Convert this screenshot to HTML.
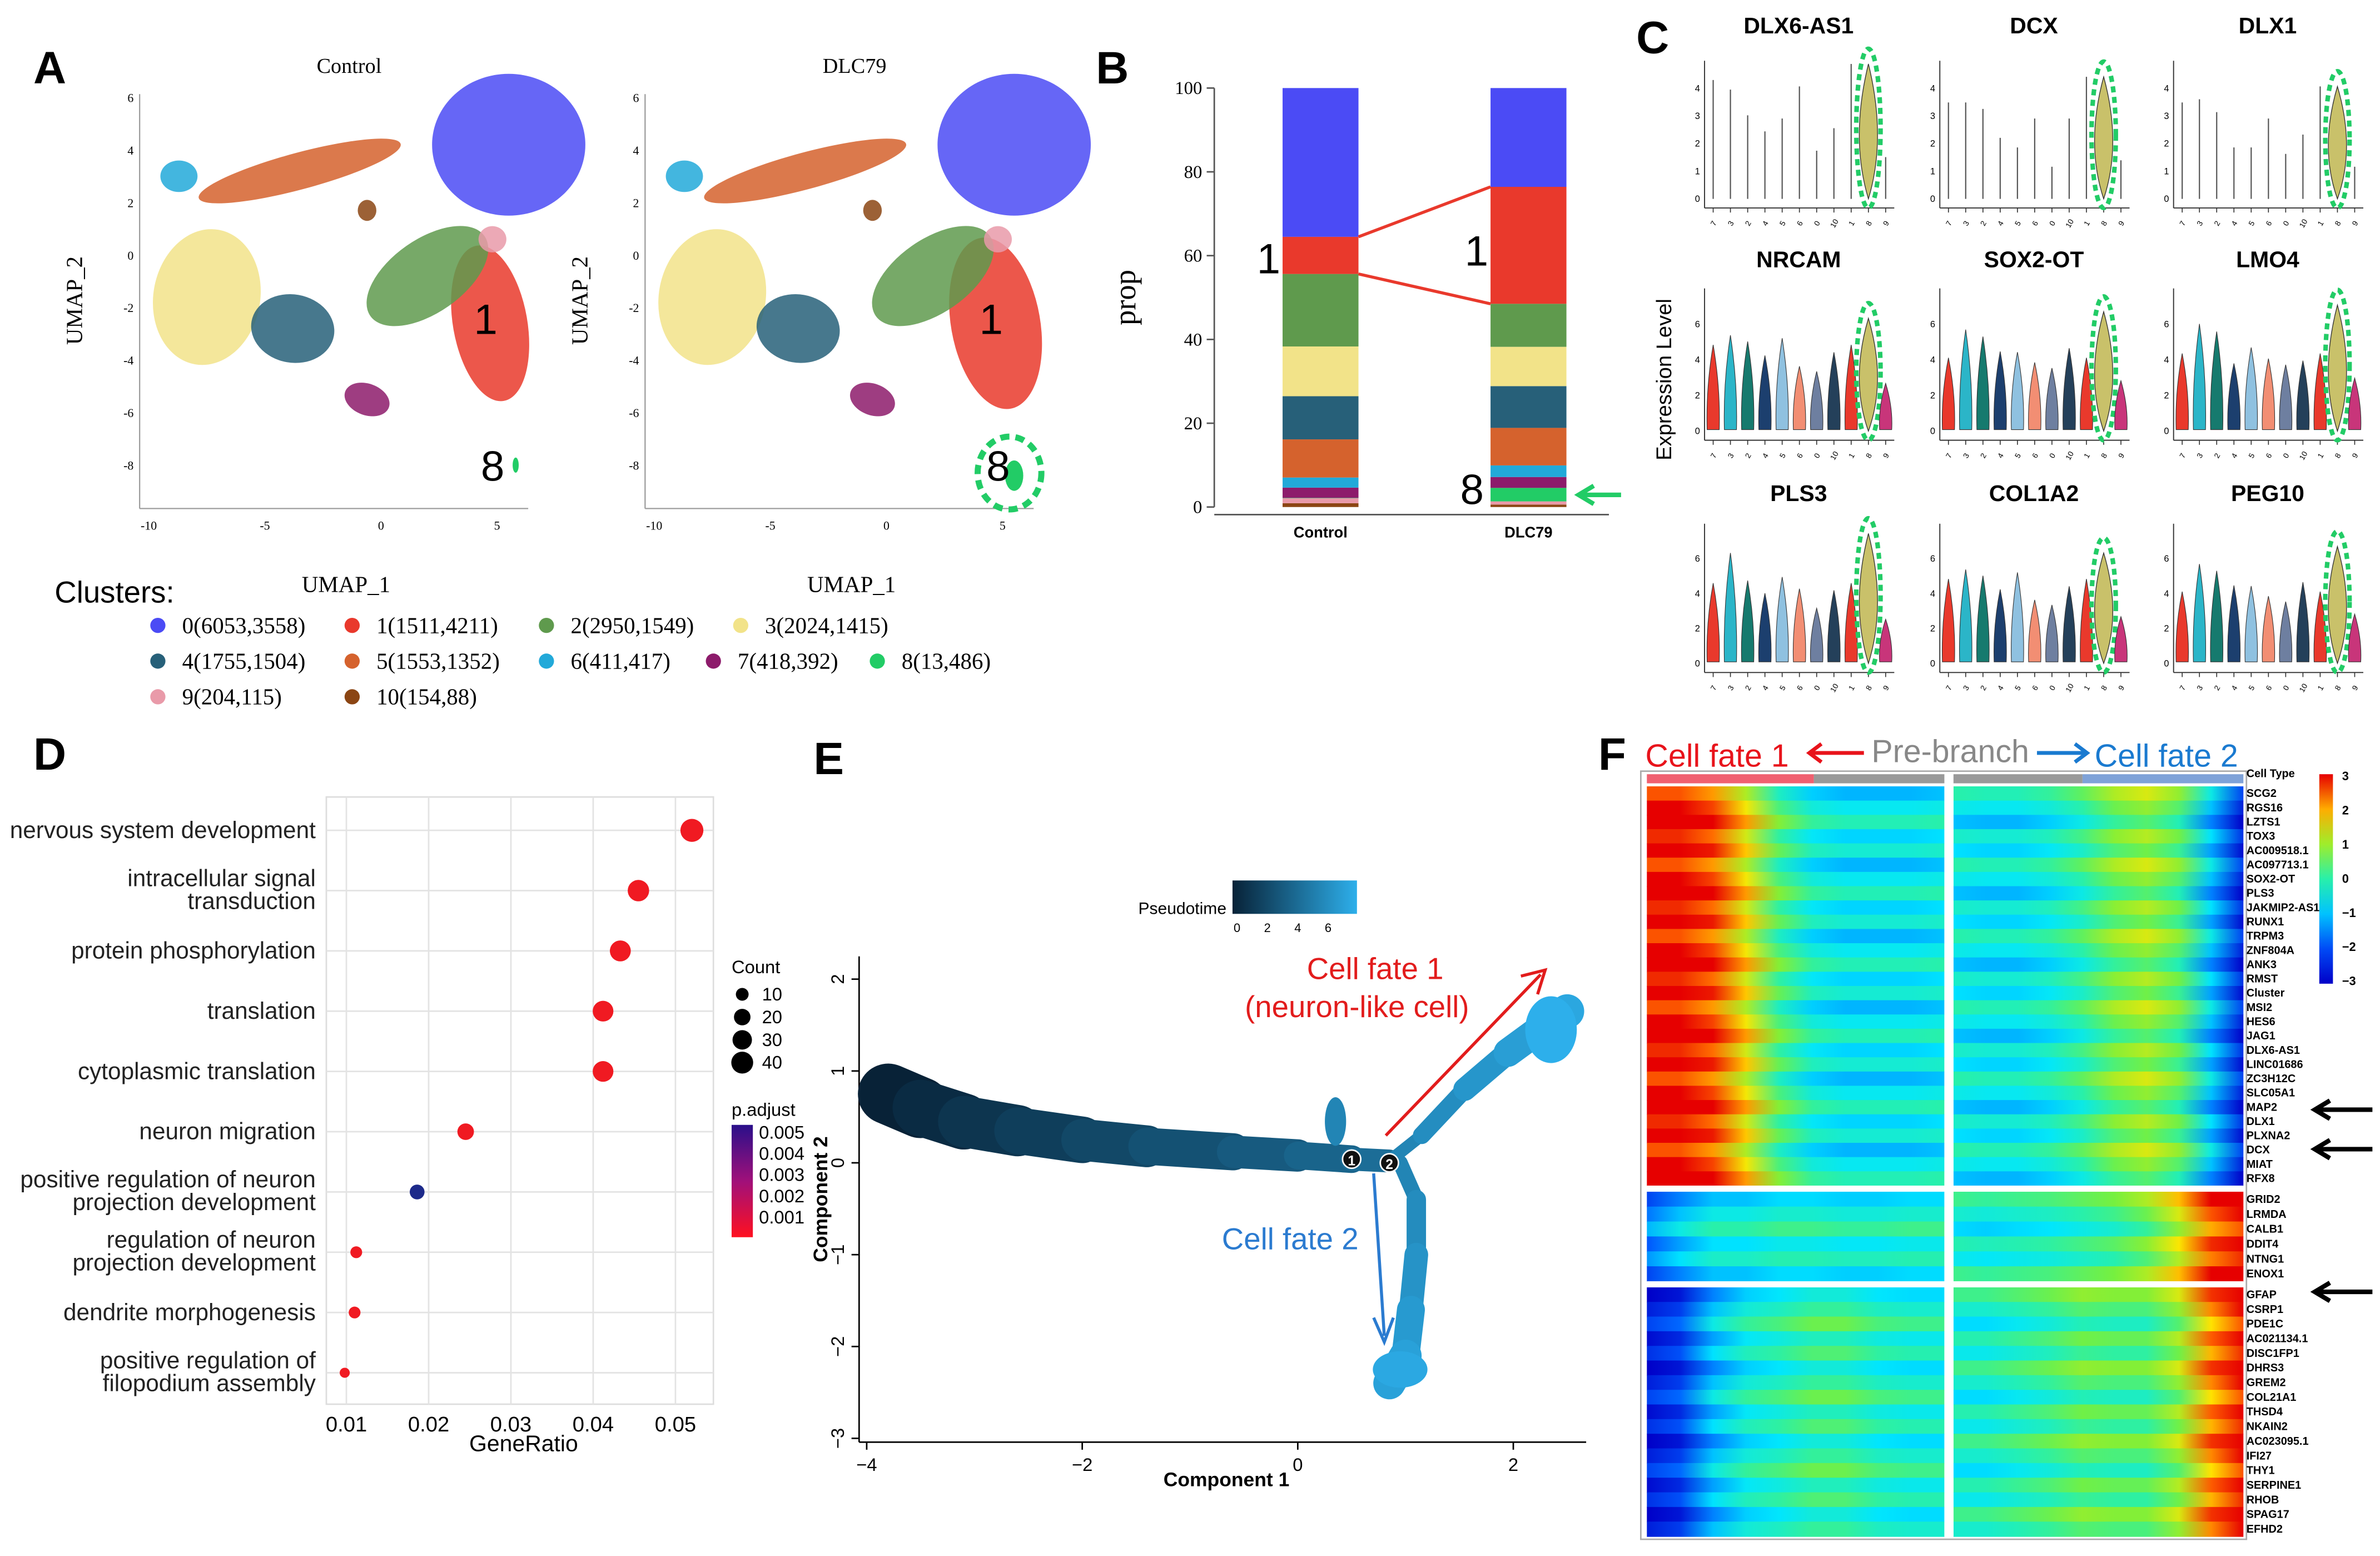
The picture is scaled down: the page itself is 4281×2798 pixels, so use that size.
<!DOCTYPE html>
<html><head><meta charset="utf-8"><style>
html,body{margin:0;padding:0;background:#fff;}
svg{display:block;}
.s{font-family:"Liberation Sans",sans-serif;}
.r{font-family:"Liberation Serif",serif;}
</style></head><body>
<svg id="fig" xmlns="http://www.w3.org/2000/svg" width="4281" height="2798" viewBox="0 0 1568 1025" preserveAspectRatio="none">
<defs></defs>
</svg>
<script>
// ---------- DATA ----------
const clusterIds=[0,1,2,3,4,5,6,7,8,9,10];
const controlCounts=[6053,1511,2950,2024,1755,1553,411,418,13,204,154];
const dlcCounts=[3558,4211,1549,1415,1504,1352,417,392,486,115,88];
const clusterColors=['#4b4bf5','#e9392c','#5f9a4d','#f2e389','#276079','#d5622d','#22a9d9','#8d1b6b','#22cc66','#e99aa9','#8b4513'];
const goTerms=['nervous system development','intracellular signal|transduction','protein phosphorylation','translation','cytoplasmic translation','neuron migration','positive regulation of neuron|projection development','regulation of neuron|projection development','dendrite morphogenesis','positive regulation of|filopodium assembly'];
const goRatio=[0.052,0.0455,0.0433,0.0412,0.0412,0.0245,0.0186,0.0112,0.011,0.0098];
const goCount=[45,38,36,35,35,20,15,8,8,5];
const goPadj=[0.0008,0.0008,0.0008,0.0008,0.0008,0.0008,0.0052,0.0008,0.0008,0.0008];
const goTicks=[0.01,0.02,0.03,0.04,0.05];
const violinGenes=['DLX6-AS1','DCX','DLX1','NRCAM','SOX2-OT','LMO4','PLS3','COL1A2','PEG10'];
const violinMaxTop=[[3.7,3.4,2.6,2.1,2.5,3.5,1.5,2.2,4.2,1.3],[3,3,2.8,1.9,1.6,2.5,1,2.5,3.8,1.2],[3,3.1,2.7,1.6,1.6,2.5,1.4,2,3.5,1]];
const violinMaxLow=[2.6,3.4,3.0,2.4,2.8,2.3,2.0,2.5,2.6,4.0,1.6];
const trajStem=[[-3.8,0.75],[-3.5,0.6],[-3.1,0.45],[-2.6,0.35],[-2,0.25],[-1.4,0.18],[-0.6,0.12],[0,0.08],[0.5,0.04],[0.85,0.02]];
const trajB1=[[0.85,0.02],[1.15,0.3],[1.55,0.8],[1.95,1.2],[2.3,1.5],[2.5,1.65]];
const trajB2=[[0.95,0],[1.1,-0.4],[1.1,-1.0],[1.05,-1.6],[1.0,-2.1],[0.85,-2.4]];
const eXTicks=[-4,-2,0,2];
const eYTicks=[2,1,0,-1,-2,-3];
const genesB1=['SCG2','RGS16','LZTS1','TOX3','AC009518.1','AC097713.1','SOX2-OT','PLS3','JAKMIP2-AS1','RUNX1','TRPM3','ZNF804A','ANK3','RMST','Cluster','MSI2','HES6','JAG1','DLX6-AS1','LINC01686','ZC3H12C','SLC05A1','MAP2','DLX1','PLXNA2','DCX','MIAT','RFX8'];
const genesB2=['GRID2','LRMDA','CALB1','DDIT4','NTNG1','ENOX1'];
const genesB3=['GFAP','CSRP1','PDE1C','AC021134.1','DISC1FP1','DHRS3','GREM2','COL21A1','THSD4','NKAIN2','AC023095.1','IFI27','THY1','SERPINE1','RHOB','SPAG17','EFHD2'];
const profB1L=[3,3,2.6,1.6,0.3,-0.4,-0.6,-0.6,-0.6,-0.5];
const profB1R=[-0.5,-0.6,-0.6,-0.4,0,0.6,0.9,0.4,-1,-2.6];
const profB2L=[-1.6,-1,-0.5,-0.5,-0.3,-0.3,-0.4,-0.4,-0.3,-0.3];
const profB2R=[-0.3,-0.4,-0.3,-0.2,0,0.2,0.6,1.4,2.5,3];
const profB3L=[-2.6,-2.2,-1,-0.4,-0.2,0.1,0.1,-0.2,-0.3,-0.3];
const profB3R=[-0.3,-0.3,-0.1,0.1,0.4,0.3,0.3,0.9,2.2,3];

// ---------- HELPERS ----------
const S=document.getElementById('fig');
const NS='http://www.w3.org/2000/svg';
function mk(tag,attrs,parent){const e=document.createElementNS(NS,tag);for(const k in attrs)e.setAttribute(k,attrs[k]);(parent||S).appendChild(e);return e;}
function tx(x,y,str,attrs,parent){const e=mk('text',Object.assign({x:x,y:y},attrs),parent);e.textContent=str;return e;}
function jet(v){const t=Math.max(0,Math.min(1,(v+3)/6));const st=[[0,[0,0,200]],[0.2,[0,90,255]],[0.38,[0,230,255]],[0.5,[40,240,170]],[0.62,[120,240,60]],[0.78,[255,230,0]],[0.9,[255,100,0]],[1,[230,0,0]]];for(let i=1;i<st.length;i++){if(t<=st[i][0]){const a=st[i-1],b=st[i];const f=(t-a[0])/(b[0]-a[0]);const c=a[1].map((x,j)=>Math.round(x+(b[1][j]-x)*f));return 'rgb('+c.join(',')+')';}}return 'rgb(230,0,0)';}
const defs=S.querySelector('defs');

// ---------- PANEL LETTERS ----------
[['A',22,55],['B',722,55],['C',1078,35],['D',22,507],['E',536,510],['F',1053,507]].forEach(p=>{const t=tx(p[1],p[2],p[0],{class:'s','font-size':30,'font-weight':'bold'});});

// ---------- PANEL A ----------
const umapBlobs=[[5.5,4.2,3.3,2.7,0,0],[4.7,-2.6,1.6,3.0,-10,1],[2.0,-0.8,3.0,1.4,-35,2],[-7.5,-1.6,2.3,2.6,10,3],[-3.8,-2.8,1.8,1.3,10,4],[-3.5,3.2,4.5,0.7,-15,5],[-8.7,3.0,0.8,0.6,0,6],[-0.6,-5.5,1.0,0.6,20,7],[4.8,0.6,0.6,0.5,0,9],[-0.6,1.7,0.4,0.4,0,10]];
function umap(ox,title,isDlc){
  const g=mk('g',{});
  const X=v=>ox+(v+10)*15.3, Y=v=>168-v*17.3;
  mk('line',{x1:ox-6,y1:62,x2:ox-6,y2:335,stroke:'#999','stroke-width':0.8},g);
  mk('line',{x1:ox-6,y1:335,x2:ox+250,y2:335,stroke:'#999','stroke-width':0.8},g);
  [-10,-5,0,5].forEach(v=>tx(X(v),349,String(v),{class:'r','font-size':8,'text-anchor':'middle'},g));
  [6,4,2,0,-2,-4,-6,-8].forEach(v=>tx(ox-10,Y(v)+3,String(v),{class:'r','font-size':8,'text-anchor':'end'},g));
  umapBlobs.forEach(b=>{let rx=b[2],ry=b[3];if(isDlc&&b[5]===1){rx*=1.2;ry*=1.1;}const e=mk('ellipse',{cx:X(b[0]),cy:Y(b[1]),rx:rx*15.3,ry:ry*17.3,fill:clusterColors[b[5]],opacity:0.85,transform:'rotate('+b[4]+' '+X(b[0])+' '+Y(b[1])+')'},g);});
  if(isDlc){mk('ellipse',{cx:X(5.5),cy:Y(-8.4),rx:6,ry:10,fill:'#22cc66'},g);mk('ellipse',{cx:X(5.3),cy:Y(-8.3),rx:21,ry:24,fill:'none',stroke:'#22cc66','stroke-width':4,'stroke-dasharray':'6 4'},g);}
  else mk('ellipse',{cx:X(5.8),cy:Y(-8),rx:2,ry:5,fill:'#22cc66'},g);
  tx(ox+132,48,title,{class:'r','font-size':14,'text-anchor':'middle'},g);
  tx(ox+130,390,'UMAP_1',{class:'r','font-size':15,'text-anchor':'middle'},g);
  tx(0,0,'UMAP_2',{class:'r','font-size':15,'text-anchor':'middle',transform:'translate('+(ox-44)+',198) rotate(-90)'},g);
  tx(X(4.0),Y(-3.0),'1',{class:'s','font-size':28},g);
  tx(X(4.3),Y(-8.6),'8',{class:'s','font-size':28},g);
}
umap(98,'Control',false);umap(431,'DLC79',true);
tx(36,397,'Clusters:',{class:'s','font-size':20});
const legendRows=[[0,1,2,3],[4,5,6,7,8],[9,10]];
const legendX=[[104,232,360,488],[104,232,360,470,578],[104,232]];
legendRows.forEach((row,ri)=>row.forEach((c,ci)=>{const x=legendX[ri][ci],y=412+ri*23.5;const g=mk('g',{});mk('circle',{cx:x,cy:y,r:5,fill:clusterColors[c]},g);tx(x+16,y+5,c+'('+controlCounts[c]+','+dlcCounts[c]+')',{class:'r','font-size':15},g);}));

// ---------- PANEL B ----------
(function(){
  const g=mk('g',{});
  const Y=v=>334-v*2.76;
  mk('line',{x1:800,y1:Y(0),x2:800,y2:Y(100),stroke:'#555'},g);
  [0,20,40,60,80,100].forEach(v=>{mk('line',{x1:795,y1:Y(v),x2:800,y2:Y(v),stroke:'#555'},g);tx(792,Y(v)+4,String(v),{class:'r','font-size':12,'text-anchor':'end'},g);});
  mk('line',{x1:800,y1:Y(0)+5,x2:1060,y2:Y(0)+5,stroke:'#555'},g);
  tx(0,0,'prop',{class:'r','font-size':20,'text-anchor':'middle',transform:'translate(748,196) rotate(-90)'},g);
  const bars=[[controlCounts,845,'Control'],[dlcCounts,982,'DLC79']];const tops={};
  bars.forEach(b=>{const tot=b[0].reduce((a,c)=>a+c,0);let acc=0;for(let c=10;c>=0;c--){const p=b[0][c]/tot*100;const r=mk('rect',{x:b[1],y:Y(acc+p),width:50,height:p*2.76,fill:clusterColors[c]},g);if(c===1)tops[b[2]]=[Y(acc+p),Y(acc)];acc+=p;}
    tx(b[1]+25,Y(0)+20,b[2],{class:'s','font-size':10,'font-weight':'bold','text-anchor':'middle'},g);});
  mk('line',{x1:895,y1:tops.Control[0],x2:982,y2:tops.DLC79[0],stroke:'#e9392c','stroke-width':2},g);
  mk('line',{x1:895,y1:tops.Control[1],x2:982,y2:tops.DLC79[1],stroke:'#e9392c','stroke-width':2},g);
  tx(828,180,'1',{class:'s','font-size':28},g);tx(965,175,'1',{class:'s','font-size':28},g);tx(962,332,'8',{class:'s','font-size':28},g);
  mk('path',{d:'M1068,326 L1042,326 M1050,320 L1040,326 L1050,332',stroke:'#22cc66','stroke-width':3,fill:'none'},g);
})();

// ---------- PANEL C ----------
(function(){
  const vcol=['#e9392c','#2bb5c8','#167a6e','#1c3f6e','#8fc1e0','#f28e73','#6e7fa0','#24405a','#e9392c','#c9c16a','#c8357a'];
  const xs=[1123,1278,1432],rows=[[22,40,137],[176,190,290],[330,345,443]];
  tx(0,0,'Expression Level',{class:'s','font-size':14,'text-anchor':'middle',transform:'translate(1101,250) rotate(-90)'});
  violinGenes.forEach((gn,i)=>{
    const cx=xs[i%3],ri=Math.floor(i/3),r=rows[ri];const g=mk('g',{});
    const top=r[1],bot=r[2]-6,w=125,dx=w/11;
    tx(cx+62,r[0],gn,{class:'s','font-size':15,'font-weight':'bold','text-anchor':'middle'},g);
    mk('line',{x1:cx,y1:top,x2:cx,y2:r[2],stroke:'#333','stroke-width':0.7},g);
    mk('line',{x1:cx,y1:r[2],x2:cx+w,y2:r[2],stroke:'#333','stroke-width':0.7},g);
    const ticks=ri===0?[0,1,2,3,4]:[0,2,4,6];ticks.forEach((t,k)=>tx(cx-3,bot-k*(bot-top)/(ticks.length)+2,String(t),{class:'s','font-size':6,'text-anchor':'end'},g));
    for(let k=0;k<11;k++){const x=cx+dx*(k+0.5);mk('line',{x1:x,y1:r[2],x2:x,y2:r[2]+3,stroke:'#333','stroke-width':0.6},g);tx(x,r[2]+12,String([7,3,2,4,5,6,0,10,1,8,9][k]),{class:'s','font-size':5,'text-anchor':'middle',transform:'rotate(-60 '+x+' '+(r[2]+10)+')'},g);
      let v;
      if(ri===0){const arr=violinMaxTop[i%3];v=k===9?arr[8]:(k===10?arr[9]:arr[k]);}
      else v=violinMaxLow[k]*(0.85+0.05*((i+k)%4));
      const h=Math.min(bot-top,(bot-top)*v/4.3);
      if(k===9){mk('path',{d:'M'+x+','+bot+' Q'+(x+12)+','+(bot-h*0.45)+' '+x+','+(bot-h)+' Q'+(x-12)+','+(bot-h*0.45)+' '+x+','+bot+'Z',fill:vcol[9],stroke:'#333','stroke-width':0.5},g);
        mk('ellipse',{cx:x,cy:bot-h/2-2,rx:8,ry:h/2+8,fill:'none',stroke:'#22cc66','stroke-width':3,'stroke-dasharray':'4 3'},g);}
      else if(ri===0){mk('line',{x1:x,y1:bot,x2:x,y2:bot-h,stroke:'#555','stroke-width':0.8},g);}
      else{const hw=4;mk('path',{d:'M'+x+','+(bot-h)+' Q'+(x+hw*1.2)+','+(bot-h*0.5)+' '+(x+hw)+','+(bot-1)+' L'+(x-hw)+','+(bot-1)+' Q'+(x-hw*1.2)+','+(bot-h*0.5)+' '+x+','+(bot-h)+'Z',fill:vcol[k],stroke:'#333','stroke-width':0.4},g);}
    }
  });
})();

// ---------- PANEL D ----------
(function(){
  const g=mk('g',{});
  const X=v=>174+v*5420, rowY=i=>547+i*39.7;
  mk('rect',{x:215,y:525,width:255,height:400,fill:'#fff',stroke:'#ddd'},g);
  goTicks.forEach(t=>{mk('line',{x1:X(t),y1:525,x2:X(t),y2:925,stroke:'#e3e3e3'},g);tx(X(t),943,String(t),{class:'s','font-size':14,'text-anchor':'middle'},g);});
  goTerms.forEach((t,i)=>{mk('line',{x1:215,y1:rowY(i),x2:470,y2:rowY(i),stroke:'#e3e3e3'},g);const parts=t.split('|');parts.forEach((p,k)=>tx(208,rowY(i)+5-(parts.length-1-k)*15+(parts.length>1?7:0),p,{class:'s','font-size':15.5,'text-anchor':'end',fill:'#222'},g));});
  goTerms.forEach((t,i)=>{const c=mk('circle',{cx:X(goRatio[i]),cy:rowY(i),r:1.2+Math.sqrt(goCount[i])*0.95,fill:goPadj[i]>0.004?'#1d2a8a':'#f01a22'},g);});
  tx(345,956,'GeneRatio',{class:'s','font-size':15,'text-anchor':'middle'},g);
  tx(482,641,'Count',{class:'s','font-size':12},g);
  [10,20,30,40].forEach((v,k)=>{mk('circle',{cx:489,cy:655+k*15,r:1.2+Math.sqrt(v)*0.95,fill:'#000'},g);tx(502,659+k*15,String(v),{class:'s','font-size':12},g);});
  tx(482,735,'p.adjust',{class:'s','font-size':12},g);
  const lg=mk('linearGradient',{id:'padj',x1:0,y1:0,x2:0,y2:1},defs);[['0','#2a0f8a'],['0.5','#a0107a'],['1','#ff1020']].forEach(s=>mk('stop',{offset:s[0],'stop-color':s[1]},lg));
  mk('rect',{x:482,y:741,width:14,height:74,fill:'url(#padj)'},g);
  ['0.005','0.004','0.003','0.002','0.001'].forEach((v,k)=>tx(500,750+k*14,v,{class:'s','font-size':12},g));
})();

// ---------- PANEL E ----------
(function(){
  const g=mk('g',{});
  const X=v=>855+v*71, Y=v=>766-v*60.5;
  mk('line',{x1:566,y1:630,x2:566,y2:950,stroke:'#000'},g);mk('line',{x1:566,y1:950,x2:1045,y2:950,stroke:'#000'},g);
  eXTicks.forEach(v=>{mk('line',{x1:X(v),y1:950,x2:X(v),y2:955,stroke:'#000'},g);tx(X(v),969,v<0?'−'+(-v):String(v),{class:'s','font-size':12,'text-anchor':'middle'},g);});
  eYTicks.forEach(v=>{mk('line',{x1:561,y1:Y(v),x2:566,y2:Y(v),stroke:'#000'},g);tx(0,0,v<0?'−'+(-v):String(v),{class:'s','font-size':12,'text-anchor':'middle',transform:'translate(556,'+Y(v)+') rotate(-90)'},g);});
  tx(808,979,'Component 1',{class:'s','font-size':13,'font-weight':'bold','text-anchor':'middle'},g);
  tx(0,0,'Component 2',{class:'s','font-size':13,'font-weight':'bold','text-anchor':'middle',transform:'translate(545,790) rotate(-90)'},g);
  const pc=t=>{const a=[8,34,55],b=[45,175,235];return 'rgb('+a.map((x,j)=>Math.round(x+(b[j]-x)*t)).join(',')+')';};
  function branch(pts,t0,t1,w0,w1,name){for(let i=0;i<pts.length-1;i++){const f=i/(pts.length-1);const s=mk('line',{x1:X(pts[i][0]),y1:Y(pts[i][1]),x2:X(pts[i+1][0]),y2:Y(pts[i+1][1]),stroke:pc(t0+(t1-t0)*f),'stroke-width':w0+(w1-w0)*f,'stroke-linecap':'round'},g);}}
  branch(trajStem,0,0.6,40,12,'trajectory-stem');branch(trajB1,0.7,1,8,26,'cell-fate-1-branch');branch(trajB2,0.7,0.95,10,24,'cell-fate-2-branch');
  mk('ellipse',{cx:X(2.35),cy:Y(1.45),rx:17,ry:22,fill:pc(1)},g);
  mk('ellipse',{cx:X(0.95),cy:Y(-2.25),rx:18,ry:12,fill:pc(0.95)},g);
  mk('ellipse',{cx:X(0.35),cy:Y(0.45),rx:7,ry:16,fill:pc(0.7)},g);
  [[0.5,0.04,'1'],[0.85,0.0,'2']].forEach(p=>{mk('circle',{cx:X(p[0]),cy:Y(p[1]),r:6,fill:'#111',stroke:'#fff'},g);tx(X(p[0]),Y(p[1])+4,p[2],{class:'s','font-size':9,fill:'#fff','text-anchor':'middle','font-weight':'bold'},g);});
  mk('path',{d:'M913,748 L1015,642 M1002,643 L1018,639 L1013,655',stroke:'#e21c1c','stroke-width':2,fill:'none'},g);
  mk('path',{d:'M905,773 L912,880 M905,868 L912,884 L918,868',stroke:'#2b7bd0','stroke-width':2,fill:'none'},g);
  tx(906,645,'Cell fate 1',{class:'s','font-size':20,fill:'#e21c1c','text-anchor':'middle'},g);
  tx(894,670,'(neuron-like cell)',{class:'s','font-size':20,fill:'#e21c1c','text-anchor':'middle'},g);
  tx(850,823,'Cell fate 2',{class:'s','font-size':20,fill:'#2b7bd0','text-anchor':'middle'},g);
  const lg=mk('linearGradient',{id:'pt',x1:0,y1:0,x2:1,y2:0},defs);mk('stop',{offset:0,'stop-color':pc(0)},lg);mk('stop',{offset:1,'stop-color':pc(1)},lg);
  tx(808,602,'Pseudotime',{class:'s','font-size':11,'text-anchor':'end'},g);
  mk('rect',{x:812,y:580,width:82,height:22,fill:'url(#pt)'},g);
  [0,2,4,6].forEach((v,k)=>tx(815+k*20,614,String(v),{class:'s','font-size':8,'text-anchor':'middle'},g));
})();

// ---------- PANEL F ----------
(function(){
  const g=mk('g',{});
  tx(1084,505,'Cell fate 1',{class:'s','font-size':21,fill:'#e8131b'},g);
  mk('path',{d:'M1228,496 L1192,496 M1200,490 L1192,496 L1200,502',stroke:'#e8131b','stroke-width':2.5,fill:'none'},g);
  tx(1233,502,'Pre-branch',{class:'s','font-size':21,fill:'#888'},g);
  mk('path',{d:'M1342,496 L1375,496 M1367,490 L1375,496 L1367,502',stroke:'#1a7ad0','stroke-width':2.5,fill:'none'},g);
  tx(1380,505,'Cell fate 2',{class:'s','font-size':21,fill:'#1a7ad0'},g);
  mk('rect',{x:1085,y:510,width:110,height:6,fill:'#f06070'},g);mk('rect',{x:1195,y:510,width:86,height:6,fill:'#999'},g);
  mk('rect',{x:1287,y:510,width:85,height:6,fill:'#999'},g);mk('rect',{x:1372,y:510,width:106,height:6,fill:'#7fa2d8'},g);
  mk('rect',{x:1081,y:508,width:399,height:506,fill:'none',stroke:'#aaa'},g);
  let gid=0;
  function gradRow(y,h,prof,x0,w){const id='hg'+(gid++);const lg=mk('linearGradient',{id:id,x1:0,y1:0,x2:1,y2:0},defs);prof.forEach((v,k)=>mk('stop',{offset:k/(prof.length-1),'stop-color':jet(v)},lg));const r=mk('rect',{x:x0,y:y,width:w,height:h+0.4,fill:'url(#'+id+')'},g);}
  function block(genes,y0,y1,pL,pR){const h=(y1-y0)/genes.length;genes.forEach((gn,i)=>{const y=y0+i*h;const sh=((i*7)%5-2)*0.25;gradRow(y,h,pL.map(v=>v+sh),1085,196);gradRow(y,h,pR.map(v=>v-sh),1287,191);tx(1480,y+h*0.75,gn,{class:'s','font-size':7.3,'font-weight':'bold'},g);});}
  block(genesB1,518,781,profB1L,profB1R);block(genesB2,785,844,profB2L,profB2R);block(genesB3,848,1012,profB3L,profB3R);
  mk('rect',{x:1281,y:518,width:6,height:494,fill:'#fff'},g);
  mk('rect',{x:1085,y:781,width:393,height:4,fill:'#fff'},g);mk('rect',{x:1085,y:844,width:393,height:4,fill:'#fff'},g);
  tx(1480,512,'Cell Type',{class:'s','font-size':7.3,'font-weight':'bold'},g);
  const lg=mk('linearGradient',{id:'hcb',x1:0,y1:0,x2:0,y2:1},defs);[3,2,1,0,-1,-2,-3].forEach((v,k)=>mk('stop',{offset:k/6,'stop-color':jet(v)},lg));
  mk('rect',{x:1528,y:510,width:9,height:138,fill:'url(#hcb)'},g);
  ['3','2','1','0','−1','−2','−3'].forEach((v,k)=>tx(1543,514+k*22.5,v,{class:'s','font-size':8,'font-weight':'bold'},g));
  [731,757,851].forEach(y=>mk('path',{d:'M1563,'+y+' L1525,'+y+' M1535,'+(y-6)+' L1525,'+y+' L1535,'+(y+6),stroke:'#000','stroke-width':3,fill:'none'},g));
})();
</script>
</body></html>
